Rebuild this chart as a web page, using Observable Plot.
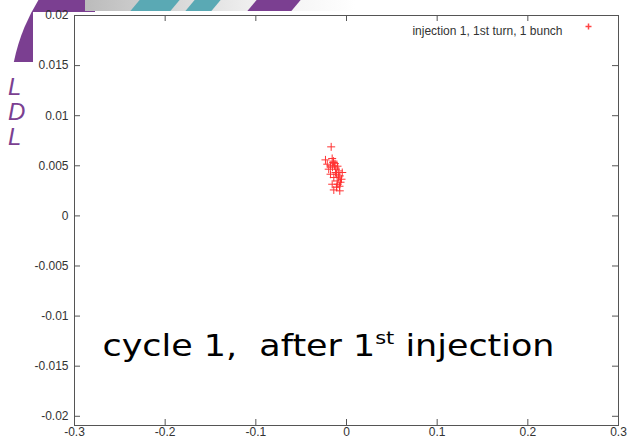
<!DOCTYPE html>
<html><head><meta charset="utf-8">
<script src="https://cdn.jsdelivr.net/npm/d3@7"></script>
<script src="https://cdn.jsdelivr.net/npm/@observablehq/plot@0.6"></script>
<style>
html,body{margin:0;padding:0;background:#fff;}
#wrap{position:relative;width:631px;height:438px;overflow:hidden;}
.deco{position:absolute;}
#chart{position:absolute;left:0;top:0;}
</style></head><body>
<div id="wrap">
  <div class="deco" style="left:0;top:0;width:95px;height:62px;overflow:hidden"><div style="position:absolute;left:10px;top:-90px;width:380px;height:380px;border-radius:50%;background:#7b3f91"></div></div>
  <div class="deco" style="left:85px;top:0;width:270px;height:11px;background:linear-gradient(90deg,#bbb,#eee 60%,#fff)"></div>
  <div class="deco" style="left:135px;top:0;width:40px;height:11px;background:#5aa9b4;transform:skewX(-40deg)"></div>
  <div class="deco" style="left:190px;top:0;width:26px;height:11px;background:#5aa9b4;transform:skewX(-40deg)"></div>
  <div class="deco" style="left:252px;top:0;width:44px;height:11px;background:#7b3f91;transform:skewX(-40deg)"></div>
  <div class="deco" style="left:33px;top:12px;width:598px;height:426px;background:#fff"></div>
  <div class="deco" style="left:8px;top:74px;font:italic 24px 'Liberation Sans',Arial,sans-serif;color:#7b3f91;line-height:25px">L<br>D<br>L</div>
  <div id="chart"></div>
</div>
<script>
// data
const xs = [-0.0169,-0.0232,-0.0158,-0.0147,-0.0176,-0.0132,-0.0196,-0.0085,-0.0121,-0.0047,-0.0074,-0.0140,-0.0103,-0.0055,-0.0158,-0.0096,-0.0140,-0.0074,-0.0176,-0.0212,-0.0143,-0.0127,-0.0110,-0.0088,-0.0116,-0.0066,-0.0110,-0.0154,-0.0099,-0.0077];
const ys = [0.00689,0.00559,0.00573,0.00533,0.00499,0.00499,0.00466,0.00449,0.00433,0.00433,0.00399,0.00383,0.00349,0.00366,0.00316,0.00316,0.00259,0.00250,0.00416,0.00516,0.00546,0.00521,0.00416,0.00386,0.00466,0.00336,0.00286,0.00486,0.00496,0.00296];
const xTicks = [-0.3,-0.2,-0.1,0,0.1,0.2,0.3];
const yTicks = [-0.02,-0.015,-0.01,-0.005,0,0.005,0.01,0.015,0.02];
const legendLabel = "injection 1, 1st turn, 1 bunch";
const annotation = ["cycle 1,  after 1","st"," injection"];

const W=631,H=438,mL=74,mR=13,mT=15,mB=13;
const fw=W-mL-mR, fh=H-mT-mB;
const plusSym = {draw(ctx,size){const r=Math.sqrt(size/Math.PI);ctx.moveTo(-r,0);ctx.lineTo(r,0);ctx.moveTo(0,-r);ctx.lineTo(0,r);}};
const pts = xs.map((x,i)=>({x,y:ys[i]}));
const fmt = d=>String(d);
const annoFull = annotation.join("");

const chart = Plot.plot({
  width:W,height:H,marginLeft:mL,marginRight:mR,marginTop:mT,marginBottom:mB,
  style:{background:"transparent",fontFamily:"'Liberation Sans',Arial,sans-serif",fontSize:"12px",color:"#333",overflow:"visible"},
  x:{domain:[-0.3,0.3]},
  y:{domain:[-0.02092,0.02]},
  marks:[
    Plot.tickX(xTicks,{x:d=>d,insetTop:fh-6,stroke:"#555"}),
    Plot.tickX(xTicks,{x:d=>d,insetBottom:fh-6,stroke:"#555"}),
    Plot.tickY(yTicks,{y:d=>d,insetRight:fw-6,stroke:"#555"}),
    Plot.tickY(yTicks,{y:d=>d,insetLeft:fw-6,stroke:"#555"}),
    Plot.frame({stroke:"#555"}),
    Plot.axisX(xTicks,{tickSize:0,tickPadding:2,tickFormat:fmt,label:null,fill:"#333",fontSize:12}),
    Plot.axisY(yTicks,{tickSize:0,tickPadding:6,tickFormat:fmt,label:null,fill:"#333",fontSize:12}),
    Plot.dot(pts,{x:"x",y:"y",symbol:plusSym,r:4,stroke:"#f33",strokeWidth:1}),
    Plot.text([legendLabel],{frameAnchor:"top-right",text:d=>d,dx:-56,dy:11,textAnchor:"end",fill:"#333",fontSize:12}),
    Plot.dot([legendLabel],{frameAnchor:"top-right",dx:-30,dy:11,symbol:plusSym,r:3,stroke:"#f44"}),
    Plot.text([annoFull],{frameAnchor:"bottom-left",text:d=>d,dx:28,dy:-70,textAnchor:"start",fontSize:30,fontFamily:"'DejaVu Sans',sans-serif",fill:"#000"})
  ]
});
d3.select(chart).selectAll("text").filter(function(){return this.textContent===annoFull;}).each(function(){
  const t=d3.select(this); t.text(null); t.style("white-space","pre");
  t.attr("textLength",452).attr("lengthAdjust","spacingAndGlyphs");
  t.append("tspan").text(annotation[0]);
  t.append("tspan").attr("dy",-12).attr("font-size",18).text(annotation[1]);
  t.append("tspan").attr("dy",12).text(annotation[2]);
});
document.getElementById("chart").appendChild(chart);
</script>
</body></html>
